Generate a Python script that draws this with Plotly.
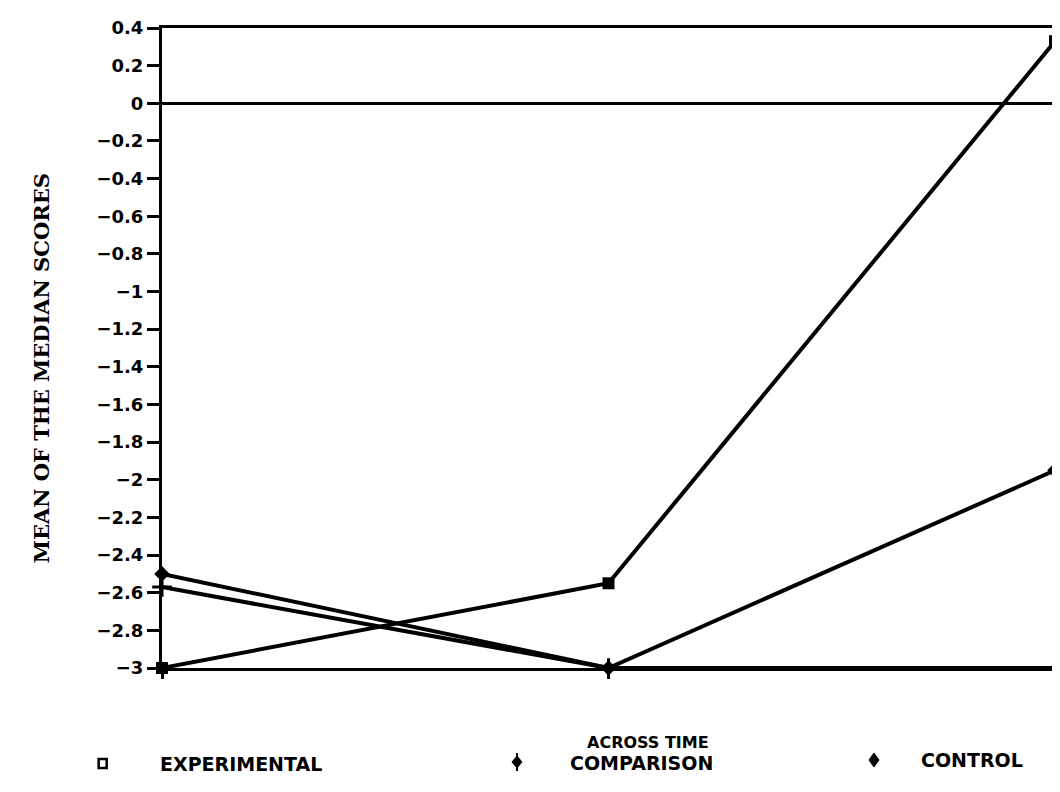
import plotly.graph_objects as go

periods = [0, 1, 2]
experimental = [-3.0, -2.55, 0.33]
comparison = [-2.57, -3.0, -3.0]
control = [-2.5, -3.0, -1.95]
ytick_vals = [0.4, 0.2, 0, -0.2, -0.4, -0.6, -0.8, -1, -1.2, -1.4, -1.6, -1.8,
              -2, -2.2, -2.4, -2.6, -2.8, -3]
ytick_text = ["0.4", "0.2", "0", "\u22120.2", "\u22120.4", "\u22120.6", "\u22120.8", "\u22121",
              "\u22121.2", "\u22121.4", "\u22121.6", "\u22121.8", "\u22122", "\u22122.2",
              "\u22122.4", "\u22122.6", "\u22122.8", "\u22123"]

# page body has an 8px margin; plot area target: x 162..1050, y 28..668
OFF = 8
PL, PR, PT, PB = 162, 1050, 28, 668

fig = go.Figure()
line = dict(color="black", width=4)
fig.add_trace(go.Scatter(x=periods, y=experimental, mode="lines+markers", name="EXPERIMENTAL",
                         line=line, marker=dict(symbol="square", size=12, color="black"),
                         cliponaxis=False))
fig.add_trace(go.Scatter(x=periods, y=comparison, mode="lines+markers", name="COMPARISON",
                         line=line, marker=dict(symbol="cross-thin", size=14,
                                                line=dict(color="black", width=3)),
                         cliponaxis=False))
fig.add_trace(go.Scatter(x=periods, y=control, mode="lines+markers", name="CONTROL",
                         line=line, marker=dict(symbol="diamond", size=12, color="black"),
                         cliponaxis=False))

fig.update_layout(
    width=1060 - OFF, height=792 - OFF,
    margin=dict(l=PL - OFF, r=1060 - OFF - PR, t=PT - OFF, b=792 - PB),
    plot_bgcolor="white", paper_bgcolor="white",
    showlegend=False,
    xaxis=dict(range=[0, 2], showgrid=False, zeroline=False, showline=True, mirror=True,
               linecolor="black", linewidth=3, tickvals=periods, ticktext=["", "", ""],
               ticks="outside", ticklen=8, tickwidth=3, tickcolor="black"),
    yaxis=dict(range=[-3, 0.4], showgrid=False, zeroline=True, zerolinecolor="black",
               zerolinewidth=3, showline=True, mirror=True, linecolor="black", linewidth=3,
               tickvals=ytick_vals, ticktext=ytick_text, ticks="outside", ticklen=12,
               tickwidth=3, tickcolor="black",
               tickfont=dict(family="DejaVu Sans", size=18, color="black", weight="bold")),
)


def pt(px, py):
    return (px - PL) / (PR - PL), (PB - py) / (PB - PT)


# y-axis title
tx, ty = pt(42, 368)
fig.add_annotation(text="MEAN OF THE MEDIAN SCORES", x=tx, y=ty, xref="paper", yref="paper",
                   showarrow=False, textangle=-90, xanchor="center", yanchor="middle",
                   font=dict(family="DejaVu Serif", size=21, color="black", weight="bold"))

annos = [
    ("EXPERIMENTAL", 158, 764, "left", 19),
    ("ACROSS TIME", 645, 742, "center", 16),
    ("COMPARISON", 639, 763, "center", 19),
    ("CONTROL", 915, 760, "left", 19),
]
for text, px, py, anchor, size in annos:
    ax, ay = pt(px, py)
    fig.add_annotation(text=text, x=ax, y=ay, xref="paper", yref="paper",
                       showarrow=False, xanchor=anchor, yanchor="middle",
                       font=dict(family="DejaVu Sans", size=size, color="black", weight="bold"))

# legend symbols
x0, y0 = pt(99, 759); x1, y1 = pt(107, 768)
fig.add_shape(type="rect", xref="paper", yref="paper", x0=x0, y0=y0, x1=x1, y1=y1,
              line=dict(color="black", width=2.5), fillcolor="white")
cx, cy = 515, 762
fig.add_shape(type="path", xref="paper", yref="paper",
              path="M {} {} L {} {} L {} {} L {} {} Z".format(*pt(cx - 5, cy), *pt(cx, cy - 6),
                                                           *pt(cx + 5, cy), *pt(cx, cy + 6)),
              line=dict(color="black", width=1), fillcolor="black")
fig.add_shape(type="line", xref="paper", yref="paper", x0=pt(cx, cy - 9)[0], y0=pt(cx, cy - 9)[1],
              x1=pt(cx, cy + 9)[0], y1=pt(cx, cy + 9)[1], line=dict(color="black", width=2))
dx, dy = 870, 760
fig.add_shape(type="path", xref="paper", yref="paper",
              path="M {} {} L {} {} L {} {} L {} {} Z".format(*pt(dx - 5, dy), *pt(dx, dy - 7),
                                                           *pt(dx + 5, dy), *pt(dx, dy + 7)),
              line=dict(color="black", width=1), fillcolor="black")

fig.write_html("out.html")
